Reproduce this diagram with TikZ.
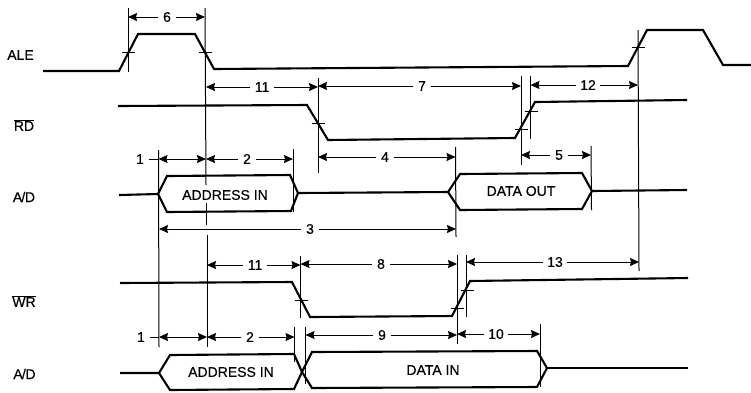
\documentclass[tikz,border=0pt]{standalone}
\usepackage{fontspec}
\setmainfont{Liberation Sans}[FakeBold=0.35]
\usetikzlibrary{arrows.meta}
\tikzset{
  signal/.style={line width=2.1pt,line join=miter},
  guide/.style={line width=1pt},
  dimline/.style={line width=1pt},
  tickm/.style={line width=0.7pt},
  arr/.style={line width=1pt,-{Stealth[length=9pt,width=8pt,inset=1pt]}},
  lbl/.style={font=\fontsize{14}{16}\selectfont,inner sep=4.5pt},
  sig/.style={font=\fontsize{14}{16}\selectfont,inner sep=0pt},
  txt/.style={font=\fontsize{14}{16}\selectfont,inner sep=0pt}
}
% \dimn{name}{y}{x1}{x2}{label x}{label}
\newcommand{\dimn}[6]{%
  \node[lbl] (#1) at (#5,#2) {#6};
  \coordinate (#1a) at (#3,#2);
  \coordinate (#1b) at (#4,#2);
  \draw[arr] (#1.west) -- (#1a);
  \draw[arr] (#1.east) -- (#1b);}
% \ticka{x}{y}
\newcommand{\ticka}[2]{\draw[tickm] (#1-6.5,#2) -- (#1+6.5,#2);}
\begin{document}
\begin{tikzpicture}[x=1pt,y=-1pt]
\useasboundingbox (0,0) rectangle (751,392);
% row labels
\node[sig] (ale) at (20.5,55) {ALE};
\node[sig] (rd) at (24,125) {$\overline{\mbox{RD}}$};
\node[sig] (ad1) at (24,197) {A\kern-0.8pt/\kern-0.3pt D};
\node[sig] (wr) at (24,301) {$\overline{\mbox{WR}}$};
\node[sig] (ad2) at (24.5,374) {A\kern-0.8pt/\kern-0.3pt D};
% signals
\draw[signal] (43,71) -- (119,71) -- (138,34) -- (195,34) -- (214,69) -- (628,66) -- (647,30) -- (703,30) -- (723,65) -- (751,65);
\draw[signal] (118,106) -- (307,105) -- (328,140) -- (515,138) -- (535,102) -- (687,100);
\draw[signal] (120,283) -- (292,282) -- (310,317) -- (452,316) -- (470,281) -- (688,278);
% upper A/D
\draw[signal] (119,195) -- (158,194) -- (167,176) -- (290,175) -- (298,193) -- (291,211) -- (167,212) -- (158,194);
\draw[signal] (298,193) -- (448,192) -- (460,174) -- (582,173) -- (592,191) -- (582,209) -- (460,210) -- (448,192);
\draw[signal] (592,191) -- (687,190);
% lower A/D
\draw[signal] (120,373) -- (159,373) -- (170,355) -- (294,354) -- (302,372) -- (312,388) -- (537,387) -- (547,368) -- (537,351) -- (312,352) -- (302,372) -- (294,389) -- (170,390) -- (159,373);
\draw[signal] (547,368) -- (688,368);
% texts
\node[txt] (t1) at (225,195) {ADDRESS IN};
\node[txt] (t2) at (521,191) {DATA OUT};
\node[txt] (t3) at (231,372) {ADDRESS IN};
\node[txt] (t4) at (433,370) {DATA IN};
% guides
\draw[guide] (128,8) -- (128,72);
\draw[guide] (205,8) -- (206,185);
\draw[guide] (206,203) -- (206,225);
\draw[guide] (207,235) -- (207,347);
\draw[guide] (318,78) -- (318,173);
\draw[guide] (521,76) -- (521,165);
\draw[guide] (530.5,76) -- (530.5,139);
\draw[guide] (638,30) -- (639,271);
\draw[guide] (158.5,150) -- (159,347);
\draw[guide] (293,149) -- (293,212);
\draw[guide] (455.5,147) -- (456,237);
\draw[guide] (591,146) -- (591.5,210);
\draw[guide] (300.5,256) -- (300.5,318);
\draw[guide] (457,255) -- (457,344);
\draw[guide] (466,255) -- (466,317);
\draw[guide] (294.5,327) -- (294.5,362);
\draw[guide] (305.5,327) -- (305.5,384);
\draw[guide] (540,324) -- (540,387);
% ticks
\ticka{128.5}{52}
\ticka{205}{52}
\ticka{318}{123}
\ticka{521}{129}
\ticka{531}{111}
\ticka{638}{47}
\ticka{301}{300}
\ticka{457}{308}
\ticka{467}{290}
% dimensions
\dimn{d6}{17}{128}{205}{167}{6}
\dimn{d11a}{87}{206}{318}{262}{11}
\dimn{d7}{86}{318}{521}{422}{7}
\dimn{d12}{85}{530.5}{638}{588}{12}
\node[lbl] (d1) at (140,159) {1};
\coordinate (d1l) at (158.5,159); \coordinate (d1r) at (206,159);
\draw[dimline] (d1.east) -- (d1l);
\draw[arr] (182,159) -- (d1l); \draw[arr] (182,159) -- (d1r);
\dimn{d2}{159}{206}{293}{247}{2}
\dimn{d4}{157}{318}{455.5}{385}{4}
\dimn{d5}{155}{521}{591}{559}{5}
\dimn{d3}{229}{159}{456}{310}{3}
\dimn{d11b}{265}{207}{300.5}{255}{11}
\dimn{d8}{264}{300.5}{457}{381}{8}
\dimn{d13}{262}{466}{639}{555}{13}
\node[lbl] (e1) at (141,337) {1};
\coordinate (e1l) at (159,337); \coordinate (e1r) at (207,337);
\draw[dimline] (e1.east) -- (e1l);
\draw[arr] (183,337) -- (e1l); \draw[arr] (183,337) -- (e1r);
\dimn{e2}{337}{207}{294.5}{250}{2}
\dimn{d9}{335}{305.5}{457}{382}{9}
\dimn{d10}{334}{457}{540}{496}{10}
\end{tikzpicture}
\end{document}
